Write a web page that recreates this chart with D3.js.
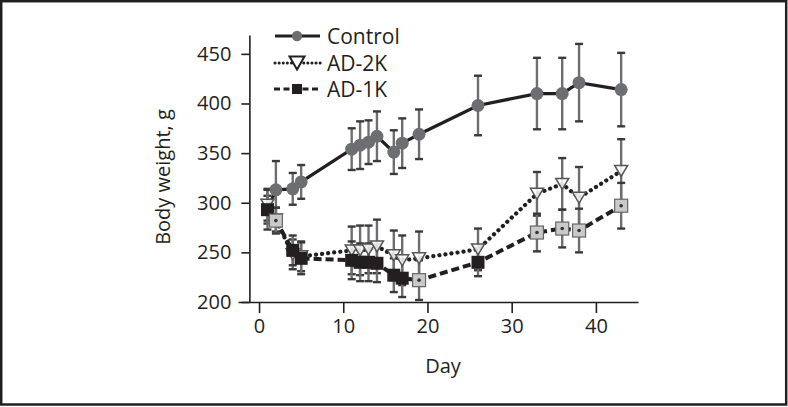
<!DOCTYPE html>
<html><head><meta charset="utf-8">
<script src="https://cdn.jsdelivr.net/npm/d3@7"></script>
<style>
html,body{margin:0;padding:0;background:#fff;}
text{font-family:"Open Sans","Noto Sans",sans-serif;fill:#231f20;}
</style></head>
<body><svg id="c" width="788" height="407"></svg>
<script>
const days = [1,2,4,5,11,12,13,14,16,17,19,26,33,36,38,43];
const control    = [293,313,314,321,354,358,361,367,351,360,369,398,410,410,421,414];
const controlErr = [14,29,16,17,21,24,22,25,22,25,25,30,36,36,39,37];
const ad2k    = [298,283,248,246,252,252,253,256,247,242,244,253,309,319,305,332];
const ad2kErr = [16,12,15,15,24,25,24,27,25,25,27,21,22,26,31,32];
const ad1k    = [293,282,252,244,242,240,240,239,227,224,222,240,270,274,272,297];
const ad1kErr = [20,13,15,16,19,19,19,19,17,19,20,14,19,19,22,23];
const ad1kLight = [false,true,false,false,false,false,false,false,false,false,true,false,true,true,true,true];
const yTicks = [200,250,300,350,400,450];
const xTicks = [0,10,20,30,40];
const legendLabels = ["Control","AD-2K","AD-1K"];

const svg = d3.select("#c");
const ink = "#231f20";
svg.append("rect").attr("x",1.2).attr("y",1.2).attr("width",785).attr("height",403.3)
  .attr("fill","none").attr("stroke",ink).attr("stroke-width",2.5);

const x = d3.scaleLinear().domain([-2.5,45]).range([238,638]);
const y = d3.scaleLinear().domain([200,469]).range([302,35]);

const xAxis = svg.append("g").attr("transform","translate(0,302)")
  .call(d3.axisBottom(x).tickValues(xTicks).tickSizeInner(11).tickSizeOuter(0).tickPadding(6));
const yAxis = svg.append("g").attr("transform",`translate(${x(-1.15)},0)`)
  .call(d3.axisLeft(y).tickValues(yTicks).tickSizeInner(8).tickSizeOuter(0).tickPadding(10));
[xAxis,yAxis].forEach(g=>{
  g.selectAll("path.domain").attr("stroke",ink).attr("stroke-width",1.6);
  g.selectAll(".tick line").attr("stroke",ink).attr("stroke-width",1.6);
  g.selectAll(".tick text").style("font-size","20px").attr("fill",ink)
   .style("font-family","'Open Sans','Noto Sans',sans-serif");
});
xAxis.selectAll(".tick text").attr("dy","0.72em");

svg.append("text").attr("transform","translate(170,177) rotate(-90)")
  .attr("text-anchor","middle").style("font-size","20px").text("Body weight, g");
svg.append("text").attr("x",443).attr("y",373).attr("text-anchor","middle")
  .style("font-size","20px").text("Day");

const series = [
  {vals:control, err:controlErr, dash:null, width:3.2},
  {vals:ad2k, err:ad2kErr, dash:"0.1 6", width:4.2, cap:"round"},
  {vals:ad1k, err:ad1kErr, dash:"8 4", width:4}
];

const plot = svg.append("g");
series.forEach(s=>{
  days.forEach((d,i)=>{
    const cx = x(d), t = y(s.vals[i]+s.err[i]), b = y(s.vals[i]-s.err[i]);
    plot.append("line").attr("x1",cx).attr("x2",cx).attr("y1",t).attr("y2",b)
      .attr("stroke","#6d6e71").attr("stroke-width",2.4);
    [t,b].forEach(v=>plot.append("line").attr("x1",cx-4).attr("x2",cx+4).attr("y1",v).attr("y2",v)
      .attr("stroke","#3a3a3a").attr("stroke-width",2.4));
  });
});
const line = d3.line().x((d,i)=>x(days[i])).y(d=>y(d));
series.forEach(s=>{
  const p = plot.append("path").attr("d",line(s.vals)).attr("fill","none")
    .attr("stroke",ink).attr("stroke-width",s.width);
  if(s.dash) p.attr("stroke-dasharray",s.dash);
  if(s.cap) p.attr("stroke-linecap",s.cap);
});
const tri = (cx,cy,w,h)=>`M${cx-w/2},${cy-h/2}L${cx+w/2},${cy-h/2}L${cx},${cy+h/2}Z`;
days.forEach((d,i)=>{
  plot.append("circle").attr("cx",x(d)).attr("cy",y(control[i])).attr("r",6.5).attr("fill","#6d6e71");
});
days.forEach((d,i)=>{
  plot.append("path").attr("d",tri(x(d),y(ad2k[i]),13,11))
    .attr("fill","#fff").attr("fill-opacity",0.85).attr("stroke","#555").attr("stroke-width",1.5);
});
days.forEach((d,i)=>{
  const cx=x(d), cy=y(ad1k[i]);
  if(ad1kLight[i]){
    plot.append("rect").attr("x",cx-6.5).attr("y",cy-6.5).attr("width",13).attr("height",13)
      .attr("fill","#c9c9c9").attr("stroke","#666").attr("stroke-width",1.2);
    plot.append("circle").attr("cx",cx).attr("cy",cy).attr("r",1.8).attr("fill","#333");
  } else {
    plot.append("rect").attr("x",cx-6.5).attr("y",cy-6.5).attr("width",13).attr("height",13)
      .attr("fill",ink);
  }
});

const lg = svg.append("g");
const rows = [36,63,89];
lg.append("line").attr("x1",275).attr("x2",320).attr("y1",rows[0]).attr("y2",rows[0]).attr("stroke",ink).attr("stroke-width",3);
lg.append("circle").attr("cx",297).attr("cy",rows[0]).attr("r",5.2).attr("fill","#6d6e71");
lg.append("line").attr("x1",275).attr("x2",321).attr("y1",rows[1]).attr("y2",rows[1]).attr("stroke",ink)
  .attr("stroke-width",3).attr("stroke-dasharray","0.1 4").attr("stroke-linecap","round");
lg.append("path").attr("d",tri(297,rows[1],15,13)).attr("fill","#fff").attr("stroke",ink).attr("stroke-width",2);
lg.append("line").attr("x1",274).attr("x2",321).attr("y1",rows[2]).attr("y2",rows[2]).attr("stroke",ink)
  .attr("stroke-width",3).attr("stroke-dasharray","6 3.5");
lg.append("rect").attr("x",292).attr("y",rows[2]-5).attr("width",10).attr("height",10).attr("fill",ink);
legendLabels.forEach((t,i)=>lg.append("text").attr("x",327).attr("y",rows[i]).attr("dy","0.36em")
  .style("font-size","21px").text(t));
</script></body></html>
